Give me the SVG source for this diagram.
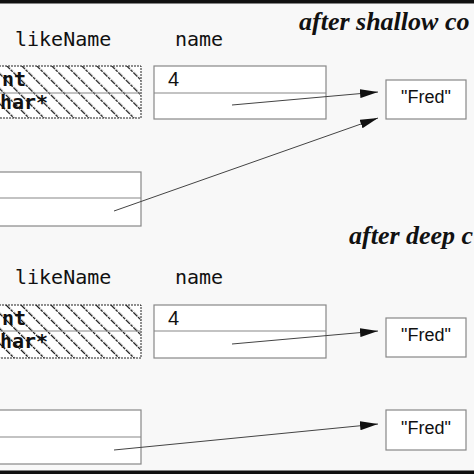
<svg xmlns="http://www.w3.org/2000/svg" width="474" height="474" viewBox="0 0 474 474">
<style>
.mono{font-family:"DejaVu Sans Mono","Liberation Mono",monospace;font-size:20px;fill:#111}
.bold{font-family:"DejaVu Sans Mono","Liberation Mono",monospace;font-size:20px;font-weight:bold;fill:#111}
.sans{font-family:"Liberation Sans",Arial,sans-serif;fill:#111}
.title{font-family:"Liberation Serif","Times New Roman",serif;font-size:26px;font-weight:bold;font-style:italic;fill:#111}
.box{fill:#fff;stroke:#888;stroke-width:1.2}
.div{stroke:#888;stroke-width:1.2}
.hatch{fill:url(#h);stroke:#222;stroke-width:1;stroke-dasharray:2 1}
.conn{stroke:#444;stroke-width:1;fill:none;marker-end:url(#arr)}
</style>
<defs>
<pattern id="h" patternUnits="userSpaceOnUse" width="10.6" height="10.6" patternTransform="rotate(-45)">
<rect width="10.6" height="10.6" fill="#fff"/>
<line x1="0.6" y1="0" x2="0.6" y2="10.6" stroke="#111" stroke-width="1.3" stroke-dasharray="3 0.8"/>
</pattern>
<marker id="arr" markerUnits="userSpaceOnUse" markerWidth="18" markerHeight="9" refX="18" refY="4.5" orient="auto">
<path d="M0,0 L18,4.5 L0,9 z" fill="#111"/>
</marker>
</defs>
<rect width="474" height="474" fill="#f8f8f8"/>
<rect x="0" y="0" width="474" height="3.5" fill="#111"/>
<rect x="0" y="470.5" width="474" height="3.5" fill="#111"/>

<g id="title-shallow"><text class="title" x="299" y="30">after shallow co</text></g>
<g id="title-deep"><text class="title" x="349" y="244">after deep c</text></g>

<!-- top section -->
<g id="likeName1">
<text class="mono" x="15" y="46">likeName</text>
<rect class="hatch" x="-10" y="66" width="151" height="52"/>
<line class="div" x1="-10" y1="93" x2="141" y2="93"/>
<text class="bold" x="2" y="86">nt</text>
<text class="bold" x="0" y="109">har*</text>
</g>
<g id="name1">
<text class="mono" x="175" y="46">name</text>
<rect class="box" x="154" y="66" width="172" height="53"/>
<line class="div" x1="154" y1="93" x2="326" y2="93"/>
<text class="sans" x="168" y="86" font-size="20">4</text>
</g>
<g id="fred1">
<rect class="box" x="386" y="80" width="80" height="39"/>
<text class="sans" x="426" y="103" font-size="18" text-anchor="middle">"Fred"</text>
</g>
<g id="obj1">
<rect class="box" x="-10" y="172" width="151" height="54"/>
<line class="div" x1="-10" y1="198" x2="141" y2="198"/>
</g>

<!-- bottom section -->
<g id="likeName2">
<text class="mono" x="15" y="284">likeName</text>
<rect class="hatch" x="-10" y="305" width="151" height="53"/>
<line class="div" x1="-10" y1="331" x2="141" y2="331"/>
<text class="bold" x="2" y="325">nt</text>
<text class="bold" x="0" y="348">har*</text>
</g>
<g id="name2">
<text class="mono" x="175" y="284">name</text>
<rect class="box" x="154" y="305" width="172" height="53"/>
<line class="div" x1="154" y1="331" x2="326" y2="331"/>
<text class="sans" x="168" y="325" font-size="20">4</text>
</g>
<g id="fred2">
<rect class="box" x="386" y="318" width="80" height="39"/>
<text class="sans" x="426" y="341" font-size="18" text-anchor="middle">"Fred"</text>
</g>
<g id="obj2">
<rect class="box" x="-10" y="410" width="151" height="54"/>
<line class="div" x1="-10" y1="437" x2="141" y2="437"/>
</g>
<g id="fred3">
<rect class="box" x="386" y="410" width="80" height="40"/>
<text class="sans" x="426" y="434" font-size="18" text-anchor="middle">"Fred"</text>
</g>

<g id="connectors">
<line class="conn" x1="232" y1="105" x2="378" y2="92"/>
<line class="conn" x1="114" y1="211" x2="378" y2="118"/>
<line class="conn" x1="232" y1="344" x2="378" y2="331"/>
<line class="conn" x1="114" y1="450" x2="378" y2="424"/>
</g>
</svg>
